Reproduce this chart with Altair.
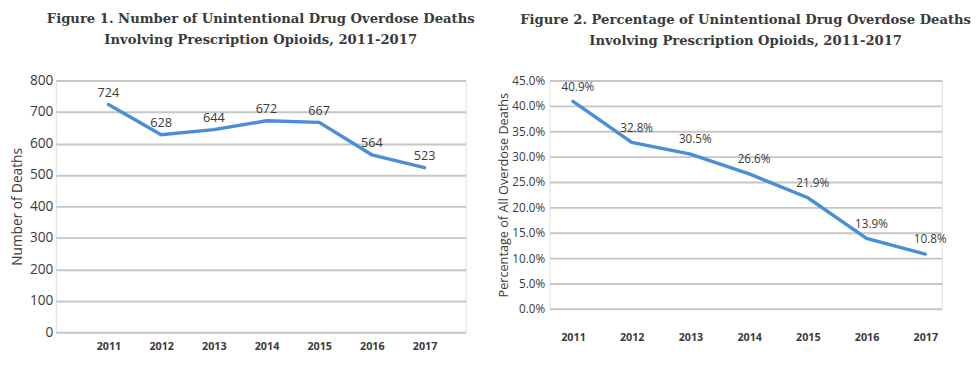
import altair as alt
import pandas as pd

years = [2011, 2012, 2013, 2014, 2015, 2016, 2017]
deaths = [724, 628, 644, 672, 667, 564, 523]
pct = [40.9, 32.8, 30.5, 26.6, 21.9, 13.9, 10.8]
pct_labels = ["40.9%", "32.8%", "30.5%", "26.6%", "21.9%", "13.9%", "10.8%"]
death_ticks = [0, 100, 200, 300, 400, 500, 600, 700, 800]
pct_ticks = [0, 5, 10, 15, 20, 25, 30, 35, 40, 45]

title1 = ["Figure 1. Number of Unintentional Drug Overdose Deaths",
          "Involving Prescription Opioids, 2011-2017"]
title2 = ["Figure 2. Percentage of Unintentional Drug Overdose Deaths",
          "Involving Prescription Opioids, 2011-2017"]

df1 = pd.DataFrame({"year": years, "deaths": deaths, "label": [str(v) for v in deaths]})
df2 = pd.DataFrame({"year": years, "pct": pct, "label": pct_labels})

LINE = "#4a8fd6"
GRID = "#c6c6c6"
TXT = "#3a3a3a"
SANS = "Open Sans"
TFONT = "DejaVu Serif"

def title(t, offset):
    return alt.TitleParams(text=t, anchor="middle", font=TFONT, fontSize=13.5,
                           fontWeight="bold", color=TXT, lineHeight=21,
                           offset=offset)

x1 = alt.X("year:Q", scale=alt.Scale(domain=[2010, 2017.78], nice=False, zero=False),
           axis=alt.Axis(values=years, format="d", title=None, grid=False, domain=False,
                         ticks=False, labelPadding=9, labelFontSize=11,
                         labelFontWeight="bold", labelColor=TXT, labelFont=SANS,
                         labelOverlap=False))
y1 = alt.Y("deaths:Q", scale=alt.Scale(domain=[0, 800], nice=False),
           axis=alt.Axis(values=death_ticks, title="Number of Deaths",
                         grid=True, gridColor=GRID, gridWidth=2, domain=False,
                         ticks=False, labelPadding=3, labelFontSize=14,
                         labelColor=TXT, labelFont=SANS, titleFont=SANS,
                         titleFontSize=14, titleFontWeight="normal", titleColor=TXT,
                         titlePadding=5, labelOverlap=False, labelFlush=False))

base1 = alt.Chart(df1)
line1 = base1.mark_line(color=LINE, strokeWidth=3.5, strokeCap="round").encode(x=x1, y=y1)
text1 = base1.mark_text(dy=-12, fontSize=13, font=SANS, color=TXT).encode(
    x=x1, y=y1, text="label:N")
chart1 = alt.layer(line1, text1).properties(width=420, height=258,
                                            title=title(title1, 28))

x2 = alt.X("year:Q", scale=alt.Scale(domain=[2010.6, 2017.28], nice=False, zero=False),
           axis=alt.Axis(values=years, format="d", title=None, grid=False, domain=False,
                         ticks=False, labelPadding=23, labelFontSize=11,
                         labelFontWeight="bold", labelColor=TXT, labelFont=SANS,
                         labelOverlap=False))
y2 = alt.Y("pct:Q", scale=alt.Scale(domain=[0, 45], nice=False),
           axis=alt.Axis(values=pct_ticks,
                         labelExpr="format(datum.value, '.1f') + '%'",
                         title="Percentage of All Overdose Deaths",
                         grid=True, gridColor=GRID, gridWidth=2, domain=False,
                         ticks=False, labelPadding=5, labelFontSize=12,
                         labelColor=TXT, labelFont=SANS, titleFont=SANS,
                         titleFontSize=13, titleFontWeight="normal", titleColor=TXT,
                         titlePadding=1, labelOverlap=False, labelFlush=False))

base2 = alt.Chart(df2)
line2 = base2.mark_line(color=LINE, strokeWidth=3.5, strokeCap="round").encode(x=x2, y=y2)
text2 = base2.mark_text(dy=-15, dx=5, fontSize=12, font=SANS, color=TXT).encode(
    x=x2, y=y2, text="label:N")
chart2 = alt.layer(line2, text2).properties(width=402, height=234,
                                            title=title(title2, 28))

chart = alt.hconcat(chart1, chart2, spacing=22).properties(
    padding={"left": 2, "top": 0, "right": 0, "bottom": 0}).configure_view(
    stroke=None).configure(background="white")

chart.save("out.html", embed_options={"renderer": "svg", "actions": False})
